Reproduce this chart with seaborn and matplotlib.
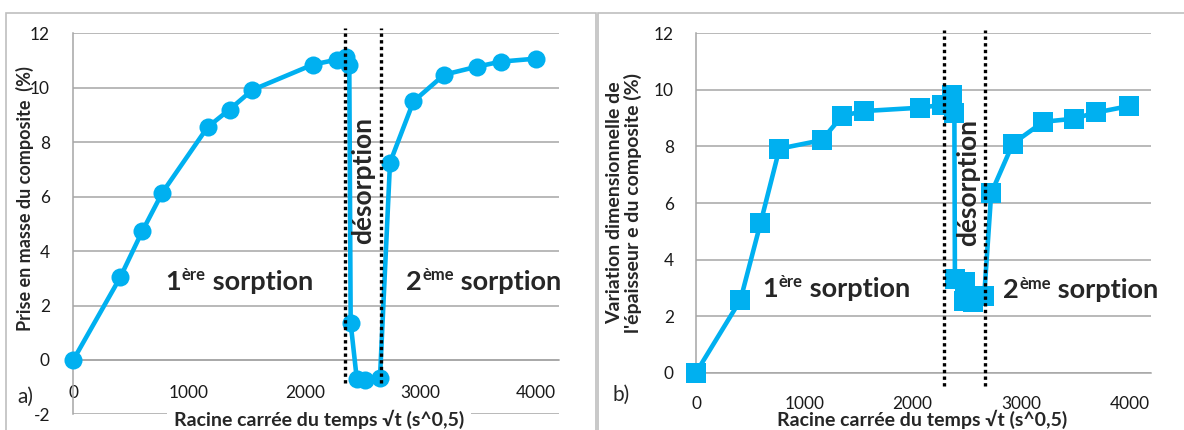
import matplotlib
matplotlib.use("Agg")
import matplotlib.pyplot as plt
import seaborn as sns
from matplotlib.patches import Rectangle

# a) mass uptake: 1st sorption, desorption, 2nd sorption (one continuous series)
time_a = [0, 405, 595, 770, 1160, 1350, 1548, 2070, 2275, 2360, 2385,
          2397, 2450, 2520, 2650,
          2737, 2940, 3205, 3485, 3695, 4000]
mass_a = [0, 3.03, 4.72, 6.15, 8.55, 9.2, 9.92, 10.85, 11.03, 11.13, 10.85,
          1.35, -0.7, -0.72, -0.68,
          7.25, 9.5, 10.48, 10.77, 10.96, 11.07]

# b) thickness variation, same three stages
time_b = [0, 410, 595, 770, 1160, 1350, 1548, 2070, 2275, 2360, 2385,
          2390, 2480, 2470, 2560, 2660,
          2725, 2925, 3205, 3485, 3695, 4000]
swell_b = [0, 2.57, 5.28, 7.92, 8.22, 9.08, 9.25, 9.37, 9.47, 9.83, 9.17,
           3.3, 3.2, 2.55, 2.5, 2.7,
           6.35, 8.1, 8.87, 8.98, 9.2, 9.43]

x_ticks = [0, 1000, 2000, 3000, 4000]
y_ticks_a = [-2, 0, 2, 4, 6, 8, 10, 12]
y_ticks_b = [0, 2, 4, 6, 8, 10, 12]
desorp_a = [2348, 2659]
desorp_b = [2293, 2669]

x_title = "Racine carrée du temps √t (s^0,5)"
y_title_a = "Prise en masse du composite  (%)"
y_title_b = "Variation dimensionnelle de\nl'épaisseur e du composite (%)"

BLUE = "#00B0F0"
GRID = "#A6A6A6"
W, H = 1184, 430

sns.set_style("white")
plt.rcParams["font.family"] = ["Lato", "DejaVu Sans"]
plt.rcParams["axes.unicode_minus"] = False


def fx(px):
    return px / W


def fy(py):
    return 1 - py / H


fig = plt.figure(figsize=(W / 100, H / 100), dpi=100)

# chart frames
fig.add_artist(Rectangle((fx(6), -0.02), fx(590), fy(12.7) + 0.02, transform=fig.transFigure,
                         fill=False, ec="#BFBFBF", lw=1.2))
fig.add_artist(Rectangle((fx(598), -0.02), fx(600), fy(12.7) + 0.02, transform=fig.transFigure,
                         fill=False, ec="#BFBFBF", lw=1.2))

ax_a = fig.add_axes([fx(73.3), fy(414.4), fx(486), (414.4 - 33.3) / H])
ax_b = fig.add_axes([fx(696), fy(372.7), fx(455), (372.7 - 33.3) / H])


def style_axes(ax, yticks, xpad, ypad):
    ax.set_xlim(0, 4200)
    ax.set_ylim(yticks[0], yticks[-1])
    ax.set_xticks(x_ticks)
    ax.set_yticks(yticks)
    ax.set_xlabel("")
    ax.set_ylabel("")
    for s in ["top", "right"]:
        ax.spines[s].set_visible(False)
    for s in ["left", "bottom"]:
        ax.spines[s].set_color(GRID)
        ax.spines[s].set_linewidth(1.1)
    ax.spines["bottom"].set_position(("data", 0))
    ax.yaxis.grid(True, color=GRID, lw=1.1)
    ax.xaxis.grid(False)
    ax.set_axisbelow(True)
    ax.tick_params(axis="x", direction="out", length=6, width=1.1, color=GRID,
                   pad=xpad, labelsize=12.4, labelcolor="#1a1a1a")
    ax.tick_params(axis="y", direction="out", length=6, width=1.1, color=GRID,
                   pad=ypad, labelsize=12.4, labelcolor="#1a1a1a")
    ax.patch.set_alpha(0)


def sorption_label(ax, x, y, num, sup):
    t1 = ax.text(x, y, num, fontsize=19.5, fontweight="bold", va="baseline", ha="left", zorder=6)
    t2 = ax.annotate(sup, xy=(1, 1), xycoords=t1, xytext=(0.5, 2), textcoords="offset points",
                     va="top", ha="left", fontsize=12, fontweight="bold", zorder=6)
    ax.annotate(" sorption", xy=(1, 0), xycoords=(t2, t1), va="bottom", ha="left",
                fontsize=19.5, fontweight="bold", zorder=6)


# panel a
sns.lineplot(x=time_a, y=mass_a, ax=ax_a, sort=False, estimator=None, color=BLUE, lw=3.3,
             marker="o", markersize=13, markeredgewidth=0, markeredgecolor=BLUE,
             clip_on=False, zorder=3)
style_axes(ax_a, y_ticks_a, xpad=12, ypad=10.8)
ax_a.vlines(desorp_a, -0.85, 12.2, colors="black", lw=2.4, linestyles=(0, (1, 1)),
            clip_on=False, zorder=4)
ax_a.text(2504, 6.58, "désorption", rotation=90, fontsize=19, fontweight="bold",
          ha="center", va="center", zorder=6)
sorption_label(ax_a, 793, 2.57, "1", "ère")
sorption_label(ax_a, 2877, 2.57, "2", "ème")

# panel b
sns.lineplot(x=time_b, y=swell_b, ax=ax_b, sort=False, estimator=None, color=BLUE, lw=3.3,
             marker="s", markersize=14, markeredgewidth=0, markeredgecolor=BLUE,
             clip_on=False, zorder=3)
style_axes(ax_b, y_ticks_b, xpad=10.5, ypad=10)
ax_b.vlines(desorp_b, -0.47, 12.1, colors="black", lw=2.4, linestyles=(0, (1, 1)),
            clip_on=False, zorder=4)
ax_b.text(2512, 6.74, "désorption", rotation=90, fontsize=19, fontweight="bold",
          ha="center", va="center", zorder=6)
sorption_label(ax_b, 612, 2.69, "1", "ère")
sorption_label(ax_b, 2834, 2.63, "2", "ème")

# axis titles and panel letters
fig.text(fx(319), fy(426), x_title, ha="center", va="baseline", fontsize=14, fontweight="bold",
         bbox=dict(facecolor="white", edgecolor="none", pad=5), zorder=5)
fig.text(fx(922), fy(426), x_title, ha="center", va="baseline", fontsize=14, fontweight="bold",
         zorder=5)
fig.text(fx(25), fy(199), y_title_a, rotation=90, ha="center", va="center", fontsize=13,
         fontweight="bold")
fig.text(fx(624), fy(203), y_title_b, rotation=90, ha="center", va="center", fontsize=14,
         fontweight="bold", linespacing=1.0, multialignment="center")
fig.text(fx(17), fy(403), "a)", fontsize=15, ha="left", va="baseline")
fig.text(fx(613), fy(401), "b)", fontsize=15, ha="left", va="baseline")

fig.savefig("out.png", dpi=100)
